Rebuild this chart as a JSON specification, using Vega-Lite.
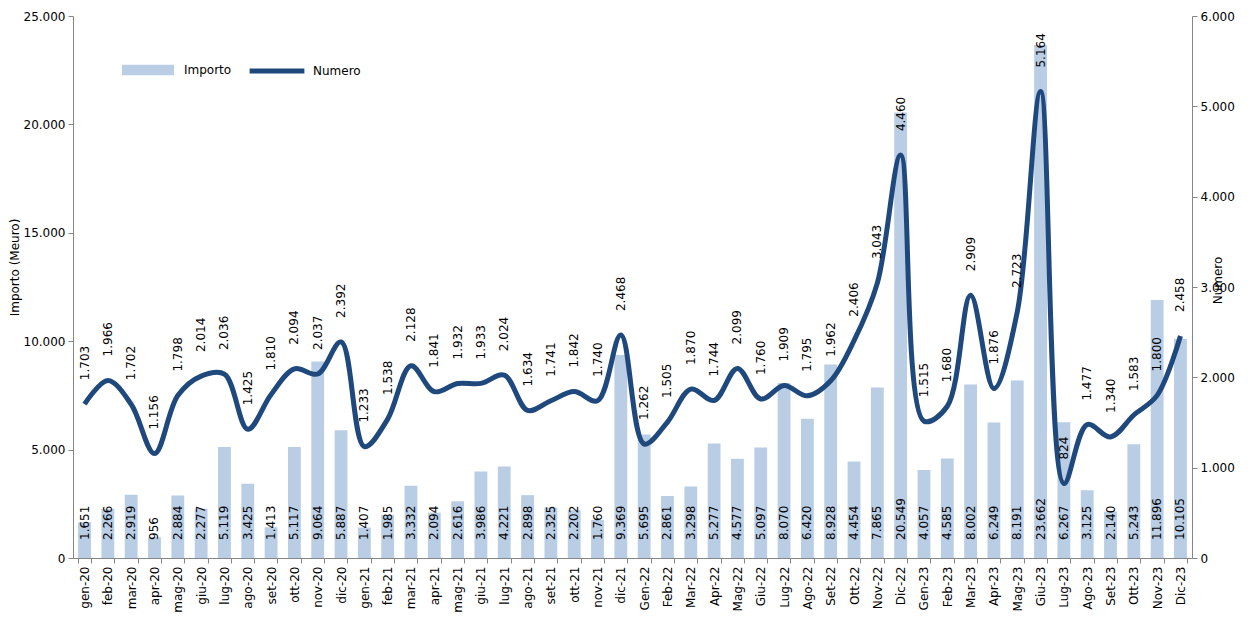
{
  "$schema": "https://vega.github.io/schema/vega-lite/v6.json",
  "width": 1119,
  "height": 542,
  "autosize": {"type": "none"},
  "padding": {"left": 73, "top": 16, "right": 61, "bottom": 61},
  "background": "white",
  "config": {
    "locale": {"number": {"decimal": ",", "thousands": ".", "grouping": [3], "currency": ["€", ""]}},
    "font": "DejaVu Sans",
    "view": {"stroke": null},
    "axis": {"domainColor": "#868686", "tickColor": "#868686", "tickSize": 5, "labelColor": "#000000", "labelFontSize": 12, "titleFontWeight": "normal", "titleFontSize": 12, "titleColor": "#000000", "grid": false, "labelFont": "DejaVu Sans", "titleFont": "DejaVu Sans"},
    "legend": {"labelFontSize": 12, "labelColor": "#000000", "labelFont": "DejaVu Sans", "padding": 0}
  },
  "data": {"values": [
    {"mese": "gen-20", "Importo": 1651, "Numero": 1703},
    {"mese": "feb-20", "Importo": 2266, "Numero": 1966},
    {"mese": "mar-20", "Importo": 2919, "Numero": 1702},
    {"mese": "apr-20", "Importo": 956, "Numero": 1156},
    {"mese": "mag-20", "Importo": 2884, "Numero": 1798},
    {"mese": "giu-20", "Importo": 2277, "Numero": 2014},
    {"mese": "lug-20", "Importo": 5119, "Numero": 2036},
    {"mese": "ago-20", "Importo": 3425, "Numero": 1425},
    {"mese": "set-20", "Importo": 1413, "Numero": 1810},
    {"mese": "ott-20", "Importo": 5117, "Numero": 2094},
    {"mese": "nov-20", "Importo": 9064, "Numero": 2037},
    {"mese": "dic-20", "Importo": 5887, "Numero": 2392},
    {"mese": "gen-21", "Importo": 1407, "Numero": 1233},
    {"mese": "feb-21", "Importo": 1985, "Numero": 1538},
    {"mese": "mar-21", "Importo": 3332, "Numero": 2128},
    {"mese": "apr-21", "Importo": 2094, "Numero": 1841},
    {"mese": "mag-21", "Importo": 2616, "Numero": 1932},
    {"mese": "giu-21", "Importo": 3986, "Numero": 1933},
    {"mese": "lug-21", "Importo": 4221, "Numero": 2024},
    {"mese": "ago-21", "Importo": 2898, "Numero": 1634},
    {"mese": "set-21", "Importo": 2325, "Numero": 1741},
    {"mese": "ott-21", "Importo": 2202, "Numero": 1842},
    {"mese": "nov-21", "Importo": 1760, "Numero": 1740},
    {"mese": "dic-21", "Importo": 9369, "Numero": 2468},
    {"mese": "Gen-22", "Importo": 5695, "Numero": 1262},
    {"mese": "Feb-22", "Importo": 2861, "Numero": 1505},
    {"mese": "Mar-22", "Importo": 3298, "Numero": 1870},
    {"mese": "Apr-22", "Importo": 5277, "Numero": 1744},
    {"mese": "Mag-22", "Importo": 4577, "Numero": 2099},
    {"mese": "Giu-22", "Importo": 5097, "Numero": 1760},
    {"mese": "Lug-22", "Importo": 8070, "Numero": 1909},
    {"mese": "Ago-22", "Importo": 6420, "Numero": 1795},
    {"mese": "Set-22", "Importo": 8928, "Numero": 1962},
    {"mese": "Ott-22", "Importo": 4454, "Numero": 2406},
    {"mese": "Nov-22", "Importo": 7865, "Numero": 3043},
    {"mese": "Dic-22", "Importo": 20549, "Numero": 4460},
    {"mese": "Gen-23", "Importo": 4057, "Numero": 1515},
    {"mese": "Feb-23", "Importo": 4585, "Numero": 1680},
    {"mese": "Mar-23", "Importo": 8002, "Numero": 2909},
    {"mese": "Apr-23", "Importo": 6249, "Numero": 1876},
    {"mese": "Mag-23", "Importo": 8191, "Numero": 2723},
    {"mese": "Giu-23", "Importo": 23662, "Numero": 5164},
    {"mese": "Lug-23", "Importo": 6267, "Numero": 824},
    {"mese": "Ago-23", "Importo": 3125, "Numero": 1477},
    {"mese": "Set-23", "Importo": 2140, "Numero": 1340},
    {"mese": "Ott-23", "Importo": 5243, "Numero": 1583},
    {"mese": "Nov-23", "Importo": 11896, "Numero": 1800},
    {"mese": "Dic-23", "Importo": 10105, "Numero": 2458}
  ]},
  "encoding": {
    "x": {"field": "mese", "type": "ordinal", "sort": null, "title": null,
      "scale": {"paddingInner": 0.45, "paddingOuter": 0.22},
      "axis": {"labelAngle": -90, "tickBand": "extent", "labelPadding": 3}}
  },
  "layer": [
    {
      "layer": [
        {
          "mark": {"type": "bar", "color": "#b9cde5"},
          "encoding": {
            "y": {"field": "Importo", "type": "quantitative",
              "scale": {"domain": [0, 25000], "nice": false},
              "axis": {"title": "Importo (Meuro)", "orient": "left", "values": [0, 5000, 10000, 15000, 20000, 25000], "format": ",.0f", "labelPadding": 3, "titleX": -52, "titleY": 251, "titleAngle": -90}},
            "color": {"datum": "Importo", "scale": {"range": ["#b9cde5"]},
              "legend": {"orient": "none", "legendX": 49, "legendY": 28, "title": null, "symbolType": "M-1,-0.2L1,-0.2L1,0.2L-1,0.2Z", "symbolSize": 2704, "symbolStrokeWidth": 0, "labelOffset": 10}}
          }
        },
        {
          "mark": {"type": "text", "angle": -90, "align": "left", "baseline": "middle", "dx": 18, "fontSize": 12, "color": "#000000"},
          "encoding": {
            "y": {"datum": 0, "type": "quantitative"},
            "text": {"field": "Importo", "type": "quantitative", "format": ",.0f"}
          }
        }
      ]
    },
    {
      "layer": [
        {
          "mark": {"type": "line", "interpolate": "catmull-rom", "strokeWidth": 5, "color": "#1f497d"},
          "encoding": {
            "y": {"field": "Numero", "type": "quantitative",
              "scale": {"domain": [0, 6000], "nice": false},
              "axis": {"title": "Numero", "orient": "right", "values": [0, 1000, 2000, 3000, 4000, 5000, 6000], "format": ",.0f", "labelPadding": 3, "titleX": 32, "titleY": 264, "titleAngle": -90}},
            "color": {"datum": "Numero", "scale": {"range": ["#1f497d"]},
              "legend": {"orient": "none", "legendX": 174, "legendY": 25, "title": null, "symbolType": "stroke", "symbolSize": 3000, "symbolStrokeWidth": 5, "labelOffset": 6}}
          }
        },
        {
          "mark": {"type": "text", "angle": -90, "align": "left", "baseline": "middle", "dx": 24, "fontSize": 12, "color": "#000000"},
          "encoding": {
            "y": {"field": "Numero", "type": "quantitative"},
            "text": {"field": "Numero", "type": "quantitative", "format": ",.0f"}
          }
        }
      ]
    }
  ],
  "resolve": {"scale": {"y": "independent", "color": "independent"}}
}
